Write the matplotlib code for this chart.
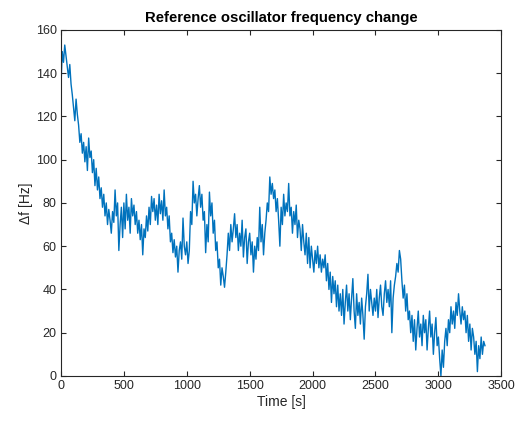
import numpy as np
import matplotlib
matplotlib.use("Agg")
import matplotlib.pyplot as plt

plt.rcParams['font.family'] = ['Liberation Sans', 'DejaVu Sans']

# frequency change, one sample every 10 s
dt = 10.0
df = [
    134, 150, 145, 153, 148, 143, 138, 144, 135, 130,
    124, 118, 128, 121, 116, 108, 112, 103, 108, 99,
    106, 95, 110, 101, 104, 94, 100, 88, 96, 86,
    92, 82, 87, 78, 84, 74, 80, 70, 77, 72,
    66, 76, 71, 86, 74, 80, 58, 70, 78, 64,
    80, 68, 84, 72, 78, 66, 82, 74, 79, 70,
    76, 66, 72, 63, 70, 56, 68, 64, 74, 67,
    78, 70, 83, 76, 82, 72, 79, 70, 84, 75,
    81, 72, 86, 74, 78, 68, 74, 62, 66, 57,
    63, 55, 60, 48, 58, 62, 54, 73, 60, 56,
    62, 52, 58, 76, 70, 90, 80, 84, 74, 82,
    88, 78, 84, 72, 76, 57, 70, 62, 85, 74,
    80, 66, 72, 58, 62, 50, 54, 42, 50, 46,
    41, 48, 56, 66, 58, 70, 62, 68, 75, 64,
    70, 58, 66, 60, 72, 55, 64, 68, 52, 62,
    66, 56, 62, 48, 60, 54, 64, 58, 78, 62,
    70, 56, 66, 72, 80, 76, 92, 84, 89, 82,
    86, 76, 82, 72, 60, 78, 70, 84, 74, 80,
    76, 89, 74, 78, 66, 76, 70, 79, 64, 72,
    68, 58, 70, 62, 56, 66, 52, 64, 50, 60,
    54, 48, 58, 52, 60, 50, 56, 48, 54, 50,
    56, 44, 52, 40, 48, 34, 46, 38, 44, 32,
    42, 30, 38, 28, 40, 24, 34, 42, 30, 38,
    26, 36, 45, 30, 22, 38, 28, 34, 24, 36,
    28, 17, 32, 38, 47, 30, 40, 34, 28, 36,
    30, 40, 27, 36, 42, 32, 28, 38, 44, 34,
    40, 32, 44, 20, 36, 42, 46, 52, 48, 58,
    54, 44, 36, 42, 30, 38, 26, 30, 20, 28,
    16, 26, 12, 22, 30, 18, 24, 14, 28, 20,
    26, 12, 22, 30, 18, 24, 10, 20, 27, 14,
    18, 8, 0, 12, 4, 16, 22, 14, 26, 20,
    32, 24, 30, 22, 34, 28, 38, 30, 24, 32,
    26, 30, 20, 28, 16, 24, 12, 22, 18, 10,
    16, 2, 14, 8, 18, 10, 16, 14,
]
t = np.arange(len(df)) * dt

xticks = [0, 500, 1000, 1500, 2000, 2500, 3000, 3500]
yticks = [0, 20, 40, 60, 80, 100, 120, 140, 160]

fig = plt.figure(figsize=(5.15, 4.21), dpi=100, facecolor='white')
ax = fig.add_axes([0.1184, 0.107, 0.855, 0.822])
ax.plot(t, df, color='#0072BD', lw=1.0)

ax.set_xlim(0, 3500)
ax.set_ylim(0, 160)
ax.set_xticks(xticks)
ax.set_yticks(yticks)
axc = '#262626'
for s in ax.spines.values():
    s.set_color(axc)
    s.set_linewidth(0.8)
ax.tick_params(direction='in', length=3.5, width=0.8, colors=axc,
               labelsize=9, top=True, right=True, pad=3)
ax.set_xlabel('Time [s]', fontsize=10, color=axc, labelpad=2)
ax.set_ylabel('\u0394f [Hz]', fontsize=10, color=axc, labelpad=2)
ax.set_title('Reference oscillator frequency change', fontsize=10.7,
             fontweight='bold', color='black', pad=6)

fig.savefig('out.png', dpi=100)
